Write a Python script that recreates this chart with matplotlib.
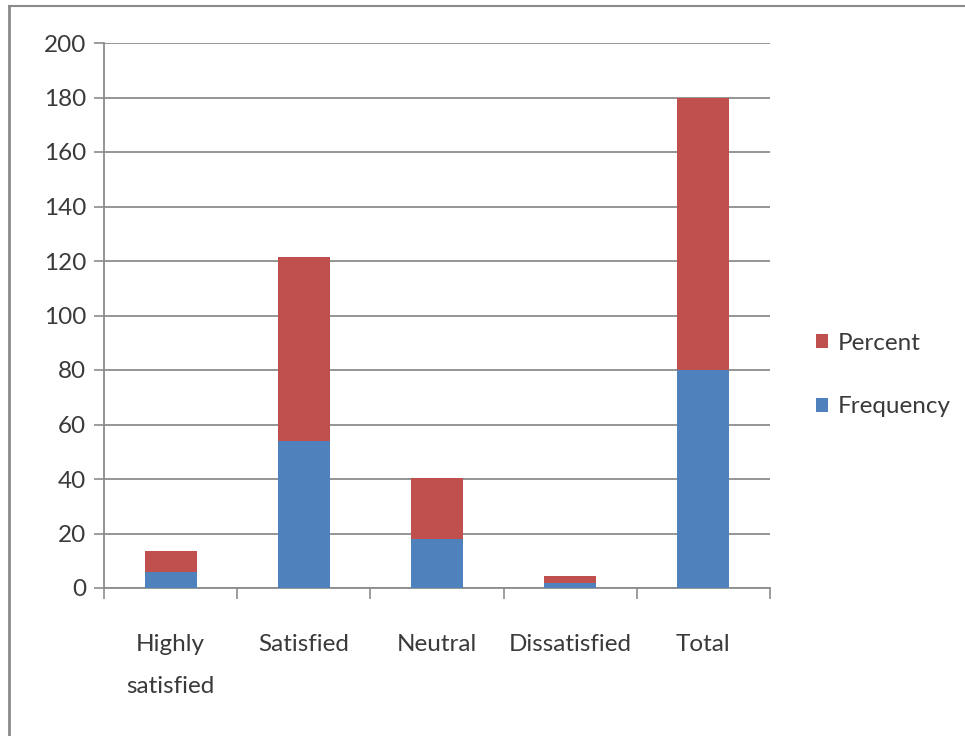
import matplotlib
matplotlib.use("Agg")
import matplotlib.pyplot as plt
from matplotlib.lines import Line2D
import numpy as np

categories = ["Highly\nsatisfied", "Satisfied", "Neutral", "Dissatisfied", "Total"]
frequency = [6, 54, 18, 2, 80]
percent = [7.5, 67.5, 22.5, 2.5, 100]
y_ticks = [0, 20, 40, 60, 80, 100, 120, 140, 160, 180, 200]

BLUE = "#4F81BD"
RED = "#C0504D"
GRID = "#8C8C8C"
TEXT = "#3A3A3A"

plt.rcParams["font.family"] = ["Lato", "DejaVu Sans"]

fig = plt.figure(figsize=(9.65, 7.36), dpi=100)
ax = fig.add_axes([104 / 965, 1 - 588 / 736, (770 - 104) / 965, (588 - 43) / 736])

x = np.arange(len(categories))
w = 0.39
ax.bar(x, frequency, w, color=BLUE, label="Frequency", zorder=3)
ax.bar(x, percent, w, bottom=frequency, color=RED, label="Percent", zorder=3)

ax.set_xlim(-0.5, len(categories) - 0.5)
ax.set_ylim(0, 200)
ax.set_yticks(y_ticks)
ax.yaxis.grid(True, color=GRID, linewidth=1.3, zorder=0)
ax.set_axisbelow(True)

ax.set_xticks(x)
ax.set_xticklabels(categories, fontsize=17.5, color=TEXT, linespacing=2.25)
ax.tick_params(axis="x", length=0, pad=33)
ax.set_xticks(np.arange(-0.5, len(categories)), minor=True)
ax.tick_params(axis="x", which="minor", length=8, width=1.2, color=GRID, direction="out")
ax.tick_params(axis="y", length=7, width=1.2, color=GRID, labelsize=17.5, labelcolor=TEXT, pad=6)

for s in ["top", "right"]:
    ax.spines[s].set_visible(False)
for s in ["left", "bottom"]:
    ax.spines[s].set_color(GRID)
    ax.spines[s].set_linewidth(1.3)

handles, labels = ax.get_legend_handles_labels()
leg = fig.legend(handles[::-1], labels[::-1], loc="center left",
                 bbox_to_anchor=(794 / 965, 1 - 375 / 736), frameon=False,
                 fontsize=17.5, handlelength=0.5, handleheight=0.5,
                 handletextpad=0.4, labelspacing=1.75)
for t in leg.get_texts():
    t.set_color(TEXT)

# outer frame
fig.add_artist(Line2D([9 / 965, 9 / 965], [0, 1 - 6 / 736], transform=fig.transFigure,
                      color="#8A8A8A", linewidth=2))
fig.add_artist(Line2D([9 / 965, 1], [1 - 6 / 736, 1 - 6 / 736], transform=fig.transFigure,
                      color="#8A8A8A", linewidth=1.5))

fig.savefig("out.png", dpi=100)
